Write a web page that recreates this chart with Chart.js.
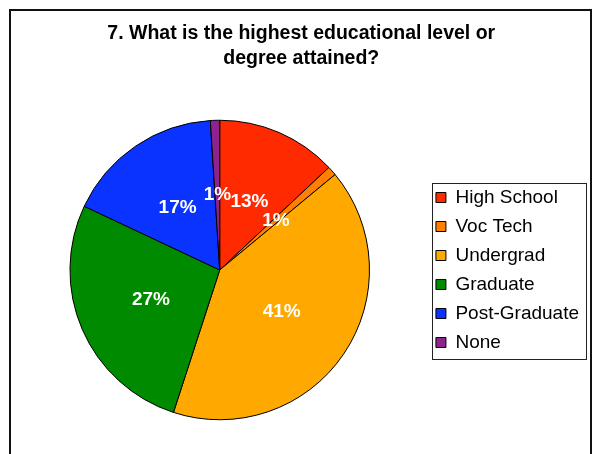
<!DOCTYPE html>
<html>
<head>
<meta charset="utf-8">
<title>Educational level</title>
<script src="https://cdn.jsdelivr.net/npm/chart.js@4.4.1/dist/chart.umd.min.js"></script>
<style>
    html, body { margin: 0; padding: 0; background: #fff; }
    canvas { display: block; }
</style>
</head>
<body>
<canvas id="eduChart" width="592" height="454"></canvas>
<script>
// Survey answers, share of respondents in percent
const categories = ['High School', 'Voc Tech', 'Undergrad', 'Graduate', 'Post-Graduate', 'None'];
const shares = [13, 1, 41, 27, 17, 1];
const titleLines = ['7. What is the highest educational level or', 'degree attained?'];

const sliceColors = ['#ff2a00', '#ff8000', '#ffa800', '#008a00', '#0a33ff', '#8e228e'];
const fontFamily = "'Liberation Sans', Arial, sans-serif";

// Outer frame around the whole chart (open at the bottom)
const framePlugin = {
    id: 'frame',
    beforeDraw(chart) {
        const ctx = chart.ctx;
        ctx.save();
        ctx.fillStyle = '#fff';
        ctx.fillRect(0, 0, chart.width, chart.height);
        ctx.strokeStyle = '#111';
        ctx.lineWidth = 2;
        ctx.beginPath();
        ctx.moveTo(10, chart.height + 5);
        ctx.lineTo(10, 10);
        ctx.lineTo(591, 10);
        ctx.lineTo(591, chart.height + 5);
        ctx.stroke();
        ctx.restore();
    }
};

// Box drawn around the legend entries
const legendBoxPlugin = {
    id: 'legendBox',
    afterDraw(chart) {
        const legend = chart.legend;
        if (!legend || !legend.legendHitBoxes.length) return;
        const boxes = legend.legendHitBoxes;
        const first = boxes[0];
        const last = boxes[boxes.length - 1];
        const left = Math.round(legend.left + 6) + 0.5;
        const right = Math.round(legend.right - 3) + 0.5;
        const top = Math.round(first.top - 5) + 0.5;
        const bottom = Math.round(last.top + last.height + 7) + 0.5;
        const ctx = chart.ctx;
        ctx.save();
        ctx.strokeStyle = '#222';
        ctx.lineWidth = 1;
        ctx.strokeRect(left, top, right - left, bottom - top);
        ctx.restore();
    }
};

// Percentage labels in the middle of each slice
const sliceLabelPlugin = {
    id: 'sliceLabels',
    afterDatasetsDraw(chart) {
        const ctx = chart.ctx;
        const meta = chart.getDatasetMeta(0);
        ctx.save();
        ctx.font = 'bold 19px ' + fontFamily;
        ctx.fillStyle = '#fff';
        ctx.textAlign = 'center';
        ctx.textBaseline = 'middle';
        meta.data.forEach((arc, i) => {
            const pos = arc.tooltipPosition(true);
            ctx.fillText(shares[i] + '%', pos.x, pos.y);
        });
        ctx.restore();
    }
};

const ctx = document.getElementById('eduChart').getContext('2d');
const eduChart = new Chart(ctx, {
    type: 'pie',
    data: {
        labels: categories,
        datasets: [{
            data: shares,
            backgroundColor: sliceColors,
            borderColor: '#000',
            borderWidth: 1
        }]
    },
    options: {
        responsive: false,
        animation: false,
        devicePixelRatio: 1,
        layout: {
            padding: { left: 13.5, right: 3, top: 0, bottom: 33.75 }
        },
        plugins: {
            title: {
                display: true,
                text: titleLines,
                color: '#000',
                font: { family: fontFamily, size: 19.5, weight: 'bold', lineHeight: '24.5px' },
                padding: { top: 21.7, bottom: 49.05 }
            },
            legend: {
                position: 'right',
                fullSize: false,
                labels: {
                    boxWidth: 10,
                    boxHeight: 10,
                    padding: 10,
                    color: '#000',
                    font: { family: fontFamily, size: 19 }
                }
            },
            tooltip: { enabled: false }
        }
    },
    plugins: [framePlugin, legendBoxPlugin, sliceLabelPlugin]
});
</script>
</body>
</html>
